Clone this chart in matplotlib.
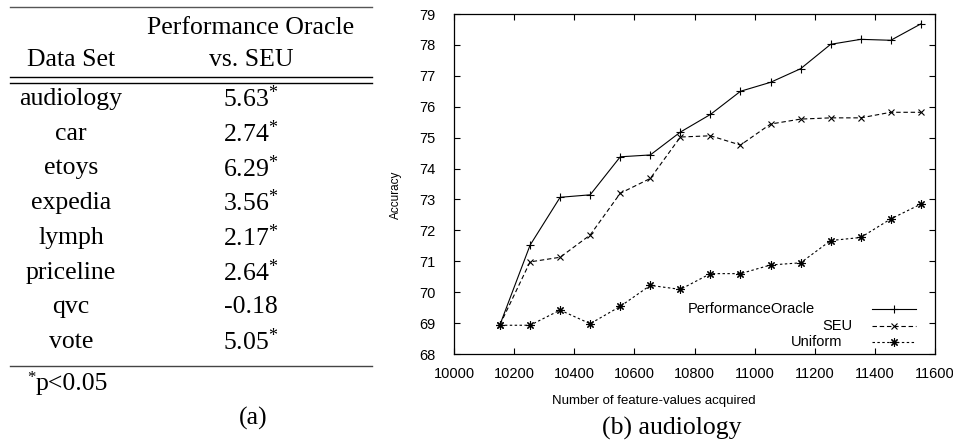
import matplotlib
matplotlib.use("Agg")
import matplotlib.pyplot as plt
from matplotlib.lines import Line2D

plt.rcParams["font.family"] = ["Liberation Sans", "DejaVu Sans"]
plt.rcParams["mathtext.fontset"] = "custom"
plt.rcParams["mathtext.rm"] = "Liberation Serif"
plt.rcParams["mathtext.it"] = "Liberation Serif"

# ── table (a) ────────────────────────────────────────────────────────────
DATASETS = ["audiology", "car", "etoys", "expedia", "lymph", "priceline", "qvc", "vote"]
IMPROVEMENT = [5.63, 2.74, 6.29, 3.56, 2.17, 2.64, -0.18, 5.05]
SIGNIFICANT = [True, True, True, True, True, True, False, True]

# ── learning curves (b) ──────────────────────────────────────────────────
N_ACQUIRED = [10153, 10253, 10353, 10453, 10553, 10653, 10753, 10853,
              10953, 11053, 11153, 11253, 11353, 11453, 11553]
ACC_ORACLE = [68.95, 71.52, 73.07, 73.15, 74.38, 74.44, 75.18, 75.75,
              76.50, 76.79, 77.23, 78.02, 78.18, 78.15, 78.68]
ACC_SEU = [68.95, 70.98, 71.13, 71.85, 73.20, 73.68, 75.02, 75.06,
           74.76, 75.44, 75.60, 75.64, 75.64, 75.82, 75.82]
ACC_UNIFORM = [68.93, 68.93, 69.42, 68.98, 69.54, 70.22, 70.09, 70.60,
               70.60, 70.88, 70.95, 71.67, 71.77, 72.37, 72.85]

W, H = 954, 444
fig = plt.figure(figsize=(W / 100, H / 100), dpi=100)

# pixel-space overlay for the table and captions
ov = fig.add_axes([0, 0, 1, 1])
ov.set_xlim(0, W)
ov.set_ylim(H, 0)
ov.axis("off")

SERIF = ["Liberation Serif", "DejaVu Serif"]
TFS = 18.5
col1, col2 = 71, 251
x0, x1 = 10, 372

ov.plot([x0, x1], [7, 7], color="#555", lw=1.0)
ov.plot([x0, x1], [77.5, 77.5], color="black", lw=1.0)
ov.plot([x0, x1], [83.5, 83.5], color="black", lw=1.0)
ov.plot([x0, x1], [366, 366], color="#444", lw=1.0)

ov.text(col2, 28, "Performance Oracle", family=SERIF, fontsize=TFS, ha="center", va="center")
ov.text(col2, 60, "vs. SEU", family=SERIF, fontsize=TFS, ha="center", va="center")
ov.text(col1, 60, "Data Set", family=SERIF, fontsize=TFS, ha="center", va="center")

row_y0, row_dy = 99, 34.7
for i, (name, val, sig) in enumerate(zip(DATASETS, IMPROVEMENT, SIGNIFICANT)):
    y = row_y0 + i * row_dy
    ov.text(col1, y, name, family=SERIF, fontsize=TFS, ha="center", va="center")
    label = f"{val:.2f}" + (r"$^{*}$" if sig else "")
    ov.text(col2, y, label, family=SERIF, fontsize=TFS, ha="center", va="center")

# footnote: superscript star, then the threshold
ov.text(27, 378, "*", family=SERIF, fontsize=12, ha="left", va="center")
ov.text(36, 384, "p<0.05", family=SERIF, fontsize=TFS, ha="left", va="center")
ov.text(253, 418, "(a)", family=SERIF, fontsize=TFS, ha="center", va="center")
ov.text(672, 428, "(b) audiology", family=SERIF, fontsize=TFS, ha="center", va="center")

# ── line chart ───────────────────────────────────────────────────────────
ax = fig.add_axes([454 / W, 1 - 354 / H, 481 / W, 340 / H])
ax.patch.set_alpha(0)

lw = 0.8
styles = [
    ("PerformanceOracle", ACC_ORACLE, "-", "+", 6),
    ("SEU", ACC_SEU, (0, (4, 2.5)), "x", 5),
    ("Uniform", ACC_UNIFORM, (0, (2.2, 2.2)), (8, 2, 0), 6),
]
for name, acc, ls, mk, ms in styles:
    ax.plot(N_ACQUIRED, acc, color="black", lw=lw, ls=ls, marker=mk,
            markersize=ms, markeredgewidth=0.8)

ax.set_xlim(10000, 11600)
ax.set_ylim(68, 79)
ax.set_xticks(range(10000, 11601, 200))
ax.set_yticks(range(68, 80))
ax.tick_params(direction="in", length=4, width=0.8, top=True, right=True,
               labelsize=10.5)
ax.tick_params(axis="x", pad=9)
ax.tick_params(axis="y", pad=13)
for s in ax.spines.values():
    s.set_linewidth(0.9)

ax.set_ylabel("Accuracy", fontsize=8.5)
ax.yaxis.set_label_coords(-0.108, 0.468)
ax.set_xlabel("Number of feature-values acquired", fontsize=9.5)
ax.xaxis.set_label_coords(0.415, -0.12)

# key in the lower right, text right-aligned beside the line sample
key_text_x = [0.7505, 0.8274, 0.8067]
key_y = [0.1315, 0.0824, 0.0362]
for (name, acc, ls, mk, ms), tx, ty in zip(styles, key_text_x, key_y):
    ax.text(tx, ty, name, transform=ax.transAxes, fontsize=10.5,
            ha="right", va="center")
    ax.add_line(Line2D([0.869, 0.9605], [ty, ty], transform=ax.transAxes,
                       color="black", lw=lw, ls=ls))
    ax.add_line(Line2D([0.915], [ty], transform=ax.transAxes, color="black",
                       marker=mk, markersize=ms, markeredgewidth=0.8, ls="none"))

fig.savefig("out.png", dpi=100, facecolor="white")
